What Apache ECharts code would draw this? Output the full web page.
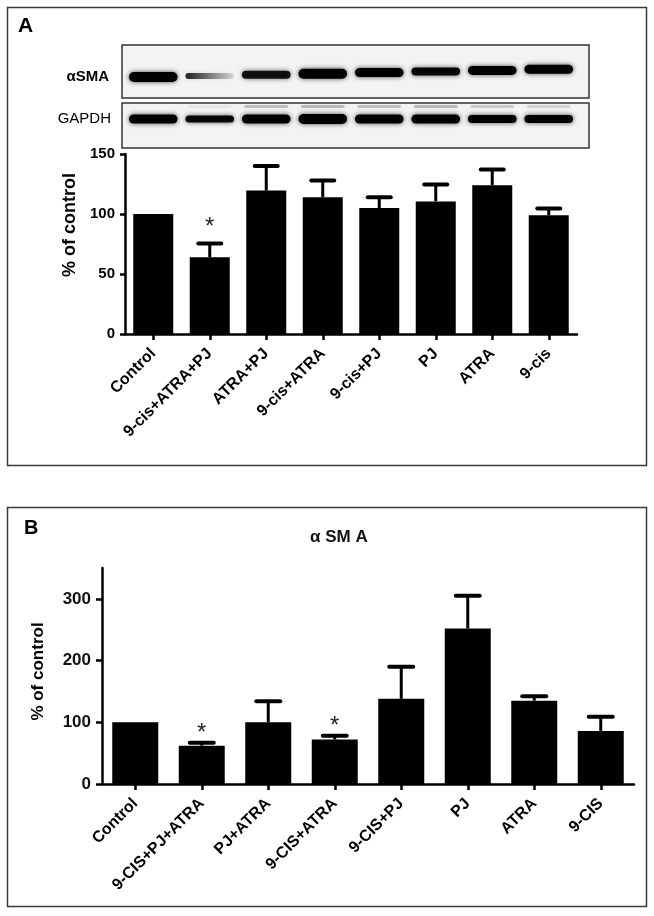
<!DOCTYPE html>
<html><head><meta charset="utf-8">
<script src="https://cdn.jsdelivr.net/npm/echarts@6/dist/echarts.min.js"></script>
<style>html,body{margin:0;padding:0;background:#fff}#c{width:654px;height:916px}</style>
</head><body><div id="c"></div>
<script>
// ---- Panel A data ----
const catsA = ['Control', '9-cis+ATRA+PJ', 'ATRA+PJ', '9-cis+ATRA', '9-cis+PJ', 'PJ', 'ATRA', '9-cis'];
const meansA = [100, 64, 119.5, 114, 105, 110.5, 124, 99];
const semA = [0, 11.5, 20.5, 14, 9, 14, 13, 5.5];
const sigA = [0, 1, 0, 0, 0, 0, 0, 0];
const ticksA = [0, 50, 100, 150];

// ---- Panel A western blot (relative band darkness / thickness) ----
const smaBand = [1.0, 0.85, 0.9, 1.0, 1.0, 0.95, 1.0, 1.0];
const smaBandEnd = [1.0, 0.1, 0.9, 1.0, 1.0, 0.95, 1.0, 1.0];
const smaThick = [10, 6, 8, 10, 9, 8, 9, 9];
const gapdhBand = [1.0, 0.95, 1.0, 1.0, 1.0, 1.0, 1.0, 1.0];
const gapdhThick = [9, 7, 9, 10, 9, 9, 8, 8];
const upperBand = [0, 0.06, 0.2, 0.22, 0.2, 0.22, 0.16, 0.12];

// ---- Panel B data ----
const catsB = ['Control', '9-CIS+PJ+ATRA', 'PJ+ATRA', '9-CIS+ATRA', '9-CIS+PJ', 'PJ', 'ATRA', '9-CIS'];
const meansB = [100, 62, 100, 72, 138, 252, 135, 86];
const semB = [0, 5, 34, 6, 52, 53, 7, 23];
const sigB = [0, 1, 0, 1, 0, 0, 0, 0];
const ticksB = [0, 100, 200, 300];

const FF = '"Liberation Sans", Arial, Helvetica, sans-serif';
const chart = echarts.init(document.getElementById('c'), null, {renderer: 'canvas'});

function grad(a0, a1) {
  return {type: 'linear', x: 0, y: 0, x2: 1, y2: 0, colorStops: [
    {offset: 0, color: 'rgba(0,0,0,' + a0 + ')'},
    {offset: 0.5, color: 'rgba(0,0,0,' + ((a0 + a1) / 2) + ')'},
    {offset: 1, color: 'rgba(0,0,0,' + a1 + ')'}]};
}
function band(cx, cy, w, h, a0, a1) {
  return {type: 'rect', shape: {x: cx - w / 2, y: cy - h / 2, width: w, height: h, r: h / 2},
    style: {fill: grad(a0, a1), shadowBlur: 5, shadowColor: 'rgba(0,0,0,' + (0.6 * Math.min(a0, a1) + 0.1) + ')'}};
}
function renderBlot(params, api) {
  const i = api.value(0);
  const cs = params.coordSys;
  const cx = api.coord([i, 0])[0];
  const w = api.size([1, 0])[0] * 0.86;
  const ch = [];
  const smaY = cs.y + 32 - i * 1.1;
  ch.push(band(cx, smaY, w, api.value(3), api.value(1), api.value(2)));
  if (api.value(6) > 0) ch.push(band(cx, cs.y + 61.5, w * 0.9, 3, api.value(6), api.value(6)));
  ch.push(band(cx, cs.y + 74, w, api.value(5), api.value(4), api.value(4)));
  return {type: 'group', children: ch};
}
function makeErr(capW, starGap) {
  return function (params, api) {
    const i = api.value(0), m = api.value(1), s = api.value(2), sig = api.value(3);
    const p0 = api.coord([i, m]);
    const p1 = api.coord([i, m + s]);
    const ch = [];
    if (s > 0) {
      ch.push({type: 'line', shape: {x1: p0[0], y1: p0[1], x2: p1[0], y2: p1[1]}, style: {stroke: '#000', lineWidth: 3}});
      ch.push({type: 'line', shape: {x1: p1[0] - capW / 2, y1: p1[1], x2: p1[0] + capW / 2, y2: p1[1]}, style: {stroke: '#000', lineWidth: 4, lineCap: 'round'}});
    }
    if (sig) {
      ch.push({type: 'text', style: {text: '*', x: p1[0], y: p1[1] - starGap + 5, align: 'center', verticalAlign: 'middle',
        fontSize: 24, fontFamily: FF, fill: '#222'}});
    }
    return {type: 'group', children: ch};
  };
}

const xLab = {rotate: 45, fontSize: 16, fontWeight: 'bold', color: '#000', fontFamily: FF, margin: 17, interval: 0};
const axLine = {show: true, lineStyle: {color: '#000', width: 2.5}};
const axTick = {show: true, alignWithLabel: true, length: 6, lineStyle: {color: '#000', width: 2.5}};

const option = {
  backgroundColor: '#fff',
  animation: false,
  title: {text: 'α SM A', left: 310, top: 529, padding: 0,
    textStyle: {fontSize: 17, fontWeight: 'bold', color: '#111', fontFamily: FF}},
  grid: [
    {left: 125, top: 45, width: 452, height: 103},
    {left: 125, top: 154, width: 452, height: 180},
    {left: 102, top: 568, width: 532, height: 216}
  ],
  xAxis: [
    {gridIndex: 0, type: 'category', data: catsA, show: false},
    {gridIndex: 1, type: 'category', data: catsA, axisLine: axLine, axisTick: axTick, axisLabel: xLab},
    {gridIndex: 2, type: 'category', data: catsB, axisLine: axLine, axisTick: axTick, axisLabel: xLab}
  ],
  yAxis: [
    {gridIndex: 0, type: 'value', min: 0, max: 1, show: false},
    {gridIndex: 1, type: 'value', min: 0, max: 150, interval: 50,
      axisLine: axLine, axisTick: {show: true, length: 5, lineStyle: {color: '#000', width: 2.5}, customValues: ticksA},
      axisLabel: {fontSize: 15, fontWeight: 'bold', color: '#000', fontFamily: FF, margin: 10, customValues: ticksA},
      splitLine: {show: false},
      name: '% of control', nameLocation: 'middle', nameGap: 45, nameRotate: 90,
      nameTextStyle: {fontSize: 18, fontWeight: 'bold', color: '#000', fontFamily: FF, padding: [0, 0, 0, 38]}},
    {gridIndex: 2, type: 'value', min: 0, max: 350, interval: 100,
      axisLine: axLine, axisTick: {show: true, length: 6, lineStyle: {color: '#000', width: 2.5}, customValues: ticksB},
      axisLabel: {fontSize: 17, fontWeight: 'bold', color: '#111', fontFamily: FF, margin: 11, customValues: ticksB},
      splitLine: {show: false},
      name: '% of control', nameLocation: 'middle', nameGap: 55, nameRotate: 90,
      nameTextStyle: {fontSize: 17, fontWeight: 'bold', color: '#000', fontFamily: FF, padding: [0, 0, 0, 9]}}
  ],
  series: [
    {type: 'custom', xAxisIndex: 0, yAxisIndex: 0, renderItem: renderBlot, z: 5,
      encode: {x: 0, y: 7},
      data: catsA.map((c, i) => [i, smaBand[i], smaBandEnd[i], smaThick[i], gapdhBand[i], gapdhThick[i], upperBand[i], 0.5])},
    {type: 'bar', xAxisIndex: 1, yAxisIndex: 1, data: meansA, barWidth: 40, itemStyle: {color: '#000'}},
    {type: 'custom', xAxisIndex: 1, yAxisIndex: 1, renderItem: makeErr(23, 21), z: 5, encode: {x: 0, y: 1},
      data: catsA.map((c, i) => [i, meansA[i], semA[i], sigA[i]])},
    {type: 'bar', xAxisIndex: 2, yAxisIndex: 2, data: meansB, barWidth: 46, itemStyle: {color: '#000'}},
    {type: 'custom', xAxisIndex: 2, yAxisIndex: 2, renderItem: makeErr(24, 14), z: 5, encode: {x: 0, y: 1},
      data: catsB.map((c, i) => [i, meansB[i], semB[i], sigB[i]])}
  ],
  graphic: [
    {type: 'rect', z: -10, shape: {x: 122, y: 45, width: 467, height: 53}, style: {fill: '#f3f3f3'}},
    {type: 'rect', z: -10, shape: {x: 122, y: 103, width: 467, height: 45}, style: {fill: '#f3f3f3'}},
    {type: 'rect', z: 100, shape: {x: 122, y: 45, width: 467, height: 53}, style: {fill: 'none', stroke: '#333', lineWidth: 1.5}},
    {type: 'rect', z: 100, shape: {x: 122, y: 103, width: 467, height: 45}, style: {fill: 'none', stroke: '#333', lineWidth: 1.5}},
    {type: 'rect', z: 100, shape: {x: 7.5, y: 7.5, width: 639, height: 458}, style: {fill: 'none', stroke: '#3a3a3a', lineWidth: 1.5}},
    {type: 'rect', z: 100, shape: {x: 7.5, y: 507.5, width: 639, height: 399}, style: {fill: 'none', stroke: '#3a3a3a', lineWidth: 1.5}},
    {type: 'text', z: 100, style: {text: 'A', x: 18, y: 16, fontSize: 21, fontWeight: 'bold', fontFamily: FF, fill: '#000'}},
    {type: 'text', z: 100, style: {text: 'B', x: 24, y: 518, fontSize: 20, fontWeight: 'bold', fontFamily: FF, fill: '#000'}},
    {type: 'text', z: 100, style: {text: 'αSMA', x: 109, y: 77, align: 'right', verticalAlign: 'middle', fontSize: 15, fontWeight: 'bold', fontFamily: FF, fill: '#000'}},
    {type: 'text', z: 100, style: {text: 'GAPDH', x: 111, y: 119, align: 'right', verticalAlign: 'middle', fontSize: 15, fontFamily: FF, fill: '#000'}}
  ]
};
chart.setOption(option);
</script></body></html>
